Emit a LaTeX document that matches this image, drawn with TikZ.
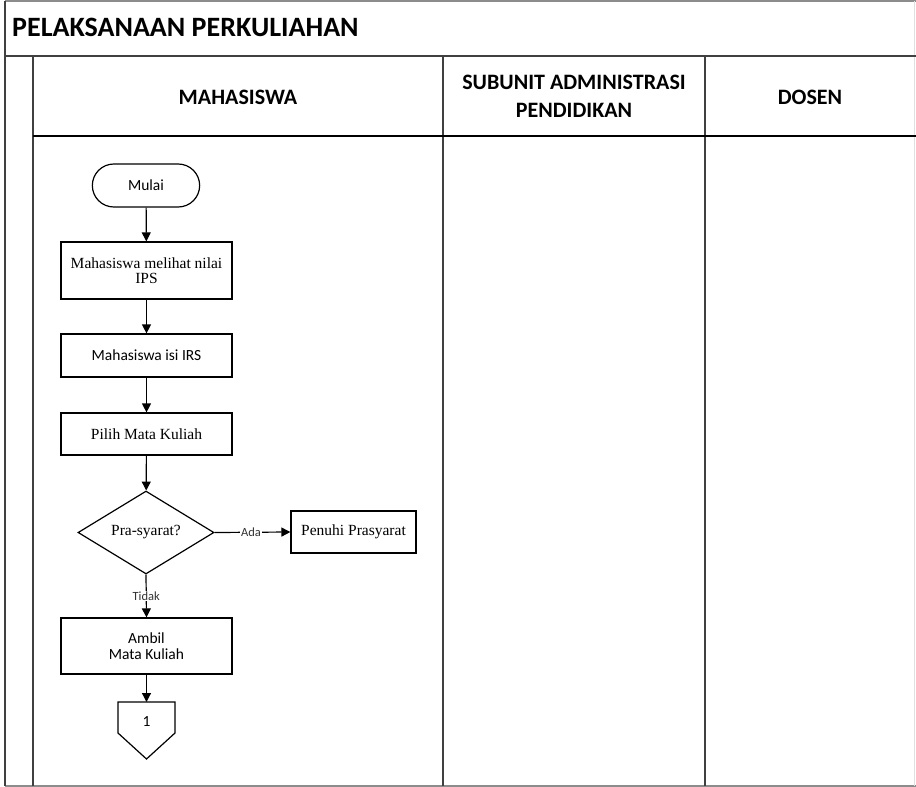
\documentclass[tikz,border=0pt]{standalone}
\usepackage{fontspec}
\setmainfont{Liberation Serif}
\newfontfamily\calfont{Carlito}
\usetikzlibrary{shapes.geometric,shapes.misc,arrows.meta}
\tikzset{
  frame/.style={draw=black!75,line width=1.4pt},
  lite/.style={draw=black!45,line width=1.2pt},
  proc/.style={draw=black,line width=1.2pt,rectangle,minimum width=171pt,inner sep=2pt,align=center,font=\fontsize{15.5}{18}\selectfont},
  term/.style={draw=black,line width=1.2pt,rounded rectangle,minimum width=114pt,minimum height=43pt,font=\calfont\fontsize{15.5}{18}\selectfont},
  dec/.style={draw=black,line width=1.2pt,diamond,aspect=1.64,minimum width=136pt,minimum height=83pt,inner sep=0pt,font=\fontsize{15.5}{18}\selectfont},
  flow/.style={draw=black,line width=1.2pt,-{Triangle[length=9pt,width=9pt]}},
  lbl/.style={fill=white,inner sep=1pt,font=\calfont\fontsize{12.5}{14}\selectfont,text=black!80},
  hdr/.style={font=\calfont\bfseries\fontsize{22}{28}\selectfont,align=center}
}
\begin{document}
\begin{tikzpicture}[x=1pt,y=-1pt]
\useasboundingbox (0,0) rectangle (916,787);
% frame lines
\draw[lite] (5,1) -- (916,1);
\draw[lite] (5,786) -- (916,786);
\draw[draw=black!12,line width=1pt] (914,1) -- (914,786);
\draw[frame] (5,1) -- (5,786);
\draw[frame,line width=2pt] (5,56) -- (916,56);
\draw[frame] (33,56) -- (33,786);
\draw[frame] (443,56) -- (443,786);
\draw[frame] (705,56) -- (705,786);
\draw[frame,draw=black] (33,136) -- (916,136);
% title and headers
\node[anchor=base west,font=\calfont\bfseries\fontsize{28}{32}\selectfont,inner sep=0pt] (title) at (12,36) {PELAKSANAAN PERKULIAHAN};
\node[hdr] (h1) at (238,97) {MAHASISWA};
\node[hdr] (h2) at (574,96) {SUBUNIT ADMINISTRASI\\PENDIDIKAN};
\node[hdr] (h3) at (810,97) {DOSEN};
% flowchart
\node[term] (mulai) at (146,185.5) {Mulai};
\node[proc,minimum height=57pt] (ips) at (146.5,270.5) {Mahasiswa melihat nilai\\[-3pt]IPS};
\node[proc,minimum height=43pt,font=\calfont\fontsize{15.5}{18}\selectfont] (irs) at (146.5,355.5) {Mahasiswa isi IRS};
\node[proc,minimum height=42pt] (pilih) at (146.5,434) {Pilih Mata Kuliah};
\node[dec] (pra) at (146,532.5) {Pra-syarat?};
\node[proc,minimum width=125pt,minimum height=42pt] (penuhi) at (353.5,532) {Penuhi Prasyarat};
\node[proc,minimum height=56pt,font=\calfont\fontsize{15.5}{18}\selectfont] (ambil) at (146.5,646) {Ambil\\[-2pt]Mata Kuliah};
\draw[line width=1.2pt,fill=white] (118,702) coordinate (oc) -- (175,702) -- (175,733) -- (146.5,759) -- (118,733) -- cycle;
\node[font=\calfont\fontsize{15.5}{18}\selectfont] (one) at (146.5,722) {1};
\coordinate (octop) at (146.5,702);
% connectors
\draw[flow] (mulai) -- (ips);
\draw[flow] (ips) -- (irs);
\draw[flow] (irs) -- (pilih);
\draw[flow] (pilih) -- (pra);
\draw[flow] (pra.east) -- node[lbl,pos=0.48] (ada) {Ada} (penuhi.west);
\draw[flow] (pra.south) -- node[lbl,pos=0.5] (tidak) {Tidak} (ambil.north);
\draw[flow] (ambil) -- (octop);
\end{tikzpicture}
\end{document}
